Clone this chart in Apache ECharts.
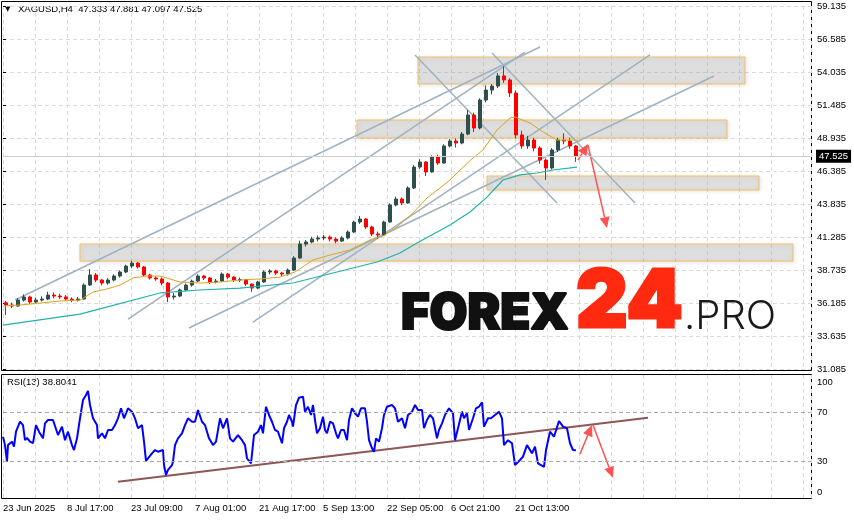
<!DOCTYPE html>
<html>
<head>
<meta charset="utf-8">
<title>XAGUSD H4</title>
<script src="https://cdn.jsdelivr.net/npm/echarts@6.0.0/dist/echarts.min.js"></script>
<style>
  html, body { margin: 0; padding: 0; background: #fff; }
  #chart { width: 854px; height: 520px; }
</style>
</head>
<body>
<div id="chart"></div>
<script>
// x axis unit = one H4 bar; each drawn candle stands for 6 bars
const BARS_PER_CANDLE = 6

const timeLabels = ['23 Jun 2025', '8 Jul 17:00', '23 Jul 09:00', '7 Aug 01:00', '21 Aug 17:00',
  '5 Sep 13:00', '22 Sep 05:00', '6 Oct 21:00', '21 Oct 13:00']

const opens = [36.20, 36.03, 35.95, 36.41, 36.65, 36.26, 36.41, 36.49, 36.80, 36.72,
  36.65, 36.49, 36.41, 36.49, 37.57, 38.35, 37.96, 37.73, 37.96, 38.27,
  38.58, 39.04, 39.27, 38.97, 38.35, 38.12, 38.04, 37.73, 36.65, 36.72,
  37.19, 37.57, 37.88, 38.27, 38.12, 37.81, 37.88, 38.42, 38.19, 37.96,
  38.00, 37.65, 37.34, 37.81, 38.58, 38.66, 38.50, 38.42, 38.73, 39.66,
  40.74, 40.90, 41.13, 41.21, 41.28, 41.13, 40.97, 41.21, 41.67, 42.44,
  42.67, 42.06, 41.52, 41.44, 42.44, 43.76, 44.22, 43.91, 45.07, 46.69,
  47.08, 46.31, 47.47, 47.00, 48.32, 48.70, 48.55, 49.24, 50.71, 49.71,
  51.87, 52.64, 52.95, 53.73, 53.42, 52.41, 49.17, 48.32, 48.78, 48.16,
  47.23, 46.62, 48.01, 48.78, 48.70, 48.32]
const closes = [36.03, 35.95, 36.41, 36.65, 36.26, 36.41, 36.49, 36.80, 36.72, 36.65,
  36.49, 36.41, 36.49, 37.57, 38.35, 37.96, 37.73, 37.96, 38.27, 38.58,
  39.04, 39.27, 38.97, 38.35, 38.12, 38.04, 37.73, 36.65, 36.72, 37.19,
  37.57, 37.88, 38.27, 38.12, 37.81, 37.88, 38.42, 38.19, 37.96, 38.00,
  37.65, 37.34, 37.81, 38.58, 38.66, 38.50, 38.42, 38.73, 39.66, 40.74,
  40.90, 41.13, 41.21, 41.28, 41.13, 40.97, 41.21, 41.67, 42.44, 42.67,
  42.06, 41.52, 41.44, 42.44, 43.76, 44.22, 43.91, 45.07, 46.69, 47.08,
  46.31, 47.47, 47.00, 48.32, 48.70, 48.55, 49.24, 50.71, 49.71, 51.87,
  52.64, 52.95, 53.73, 53.42, 52.41, 49.17, 48.32, 48.78, 48.16, 47.23,
  46.62, 48.01, 48.78, 48.70, 48.32, 47.525]
const lows = [35.26, 35.80, 35.90, 36.30, 36.10, 36.15, 36.30, 36.40, 36.55, 36.50,
  36.35, 36.25, 36.30, 36.45, 37.50, 37.80, 37.55, 37.60, 37.85, 38.15,
  38.50, 38.90, 38.85, 38.20, 38.00, 37.90, 37.55, 36.26, 36.45, 36.65,
  37.10, 37.45, 37.80, 37.95, 37.65, 37.70, 37.80, 38.05, 37.80, 37.80,
  37.50, 37.05, 37.25, 37.75, 38.40, 38.35, 38.25, 38.30, 38.65, 39.60,
  40.55, 40.80, 40.95, 41.05, 40.95, 40.80, 40.90, 41.10, 41.60, 42.30,
  41.90, 41.35, 41.15, 41.40, 42.40, 43.65, 43.75, 43.85, 45.00, 46.55,
  46.00, 46.25, 46.85, 46.95, 48.20, 48.20, 48.45, 49.15, 49.40, 49.60,
  51.70, 52.30, 52.80, 53.20, 52.10, 48.90, 48.10, 48.10, 47.90, 46.95,
  45.69, 46.50, 47.85, 48.45, 48.10, 47.097]
const highs = [36.35, 36.22, 36.55, 36.85, 36.75, 36.60, 36.70, 37.05, 37.00, 36.90,
  36.80, 36.62, 36.66, 37.70, 38.80, 38.50, 38.05, 38.10, 38.40, 38.70,
  39.15, 39.45, 39.35, 39.05, 38.45, 38.25, 38.15, 37.80, 36.95, 37.30,
  37.70, 38.00, 38.40, 38.35, 38.20, 38.05, 38.55, 38.50, 38.25, 38.15,
  38.05, 37.70, 37.90, 38.70, 38.80, 38.75, 38.60, 38.85, 39.80, 41.00,
  41.05, 41.30, 41.40, 41.45, 41.40, 41.25, 41.35, 41.80, 42.55, 42.90,
  42.75, 42.15, 41.70, 42.55, 43.90, 44.40, 44.35, 45.20, 46.85, 47.30,
  47.15, 47.60, 47.65, 48.45, 48.85, 48.90, 49.40, 51.10, 50.90, 52.00,
  53.00, 53.10, 53.95, 54.47, 53.55, 52.60, 49.50, 49.10, 48.95, 48.30,
  47.35, 48.15, 48.95, 49.30, 48.95, 48.40]

// moving averages, [bar, price]
const maFast = [[0, 35.95], [17, 36.03], [37, 36.18], [57, 36.34], [77, 36.41], [90, 37.03], [104, 37.27],
  [117, 37.57], [130, 38.12], [144, 38.27], [157, 38.27], [177, 37.81], [197, 37.73], [217, 37.81],
  [237, 37.96], [257, 38.04], [277, 38.19], [292, 38.58], [310, 39.51], [327, 39.89], [347, 40.28],
  [367, 41.05], [380, 41.36], [394, 42.06], [410, 43.14], [424, 44.30], [437, 45.07], [447, 45.69],
  [457, 46.46], [470, 47.39], [480, 48.01], [494, 49.55], [507, 50.48], [512, 50.56], [527, 50.09],
  [540, 49.40], [554, 48.78], [575, 48.78]]
const maSlow = [[0, 34.48], [77, 35.33], [157, 36.96], [197, 37.19], [237, 37.34], [290, 37.73],
  [330, 38.50], [374, 39.35], [397, 40.05], [414, 40.82], [447, 42.21], [467, 43.22], [484, 44.37],
  [500, 45.69], [517, 46.08], [534, 46.23], [550, 46.46], [574, 46.69]]

// RSI(13), [bar, value]
const rsi = [[0, 49.8], [2, 43], [4, 29.5], [5, 43], [9, 45.8], [11, 41.7], [13, 53.9], [17, 62], [20, 59.3],
  [22, 47], [24, 48.8], [27, 45.8], [30, 44.6], [33, 59.3], [36, 53.9], [40, 48.5], [42, 60.7], [45, 63.4],
  [50, 63.4], [55, 51.2], [59, 58], [62, 47], [65, 53.9], [69, 43], [71, 39], [74, 48.5], [77, 64.8],
  [80, 79.7], [83, 83.7], [85, 87], [87, 75.6], [90, 64.8], [94, 59.3], [95, 48.5], [99, 52.6], [102, 48.5],
  [105, 55.3], [109, 55.3], [112, 59.3], [115, 64.8], [118, 72.9], [121, 64.8], [125, 72.9], [129, 70.2],
  [132, 64.8], [135, 56.7], [139, 59.3], [141, 45.8], [143, 30.1], [145, 30.9], [149, 36.3], [152, 39],
  [155, 37.6], [160, 39], [161, 26.8], [163, 18.7], [165, 22.8], [169, 26.8], [170, 29.5], [172, 43],
  [175, 48.5], [179, 52.6], [182, 59.3], [185, 64.8], [189, 62], [192, 62], [195, 71.5], [199, 62],
  [202, 59.3], [206, 48.5], [210, 43], [213, 45.8], [217, 64.8], [220, 56.7], [224, 64.8], [227, 48.5],
  [230, 45.8], [235, 51.2], [239, 47], [242, 43], [244, 32.3], [248, 28.2], [251, 51.2], [255, 53.9],
  [258, 59.3], [260, 52.6], [263, 74.2], [266, 67.5], [269, 62], [272, 55.3], [275, 53.9], [279, 44.5],
  [281, 56.7], [284, 62], [286, 67.5], [289, 62], [290, 58], [293, 75.6], [296, 81.5], [300, 82.4],
  [302, 70.2], [305, 74.2], [308, 67.5], [310, 75.6], [312, 63.4], [314, 52.6], [317, 56.7], [320, 66.1],
  [322, 55.3], [324, 52.6], [327, 62], [330, 60.7], [333, 52.6], [335, 48.5], [338, 55.3], [341, 55.3],
  [344, 47], [346, 63.4], [349, 72.9], [352, 68.9], [355, 66.1], [358, 72.9], [362, 72.9], [364, 62],
  [366, 47], [369, 40.4], [371, 37.6], [373, 48.5], [376, 45.8], [379, 56.7], [381, 67.5], [384, 74.2],
  [389, 75.6], [392, 72.9], [395, 62], [399, 64.8], [402, 56.7], [405, 67.5], [409, 70.2], [412, 75.6],
  [415, 71.5], [419, 71.5], [421, 56.7], [424, 63.4], [427, 67.5], [430, 64.8], [434, 48.5], [436, 55.3],
  [439, 60.7], [442, 67.5], [446, 72.9], [450, 68.9], [452, 47], [455, 56.7], [459, 70.2], [461, 64.8],
  [464, 68.9], [466, 55.3], [470, 64.8], [473, 72.9], [476, 74.2], [479, 77.8], [481, 58], [485, 64.8],
  [488, 64.8], [492, 67.5], [496, 70.2], [499, 64.8], [501, 43], [505, 47], [509, 44.5], [512, 26.8],
  [517, 30.9], [520, 33.6], [524, 43], [529, 36.3], [532, 41.7], [535, 28.2], [537, 28.2], [541, 25.4],
  [543, 39], [547, 53.9], [551, 49.8], [556, 62.6], [560, 58], [564, 56.7], [567, 44.5], [570, 39],
  [573, 38.8]]
const rsiLevels = [30, 70]

// drawn objects, [bar1, price1, bar2, price2]
const zones = [[77, 39.42, 790, 40.743], [354, 48.934, 724, 50.325],
  [415, 53.107, 742, 55.194], [484, 44.915, 756, 45.997]]
const trendLines = [[12, 36.415, 537, 55.967], [125, 34.945, 522, 55.58], [186, 34.25, 711, 53.725],
  [250, 34.715, 647, 55.35], [412, 55.35, 554, 43.91], [489, 55.503, 632, 43.91]]
const priceArrows = [[575, 47.23, 585, 48.47], [585, 48.39, 604, 41.98]]
const rsiTrend = [[115, 13.3, 645, 65.3]]
const rsiArrows = [[577, 35.8, 589, 59.3], [590, 59.3, 610, 16.5]]

const FONT = 'Liberation Sans'
const lastPrice = closes[closes.length - 1]

const candles = opens.map((o, i) => [i * BARS_PER_CANDLE + 3, o, closes[i], lows[i], highs[i]])

function timeAxis(gridIndex, showLabels) {
  return {
    type: 'value', gridIndex, min: 0, max: 808, interval: 32,
    axisLine: { show: false },
    axisTick: { show: false },
    axisLabel: {
      show: showLabels, align: 'left', margin: 5, color: '#000', fontSize: 9.5, fontFamily: FONT,
      formatter: (v) => (v % 64 === 0 ? timeLabels[v / 64] || '' : ''),
    },
    splitLine: { show: true, lineStyle: { color: '#dadada', type: [4, 3] } },
  }
}

function renderZone(params, api) {
  const a = api.coord([api.value(0), api.value(1)])
  const b = api.coord([api.value(2), api.value(3)])
  return {
    type: 'rect',
    shape: { x: a[0], y: b[1], width: b[0] - a[0], height: a[1] - b[1] },
    style: {
      fill: 'rgba(185,185,185,0.32)', stroke: '#f2c064', lineWidth: 1,
      shadowBlur: 4, shadowColor: 'rgba(0,0,0,0.18)', shadowOffsetX: 1, shadowOffsetY: 1,
    },
  }
}

function lineRenderer(color, width) {
  return (params, api) => {
    const a = api.coord([api.value(0), api.value(1)])
    const b = api.coord([api.value(2), api.value(3)])
    return {
      type: 'line',
      shape: { x1: a[0], y1: a[1], x2: b[0], y2: b[1] },
      style: { stroke: color, lineWidth: width },
    }
  }
}

function renderArrow(params, api) {
  const a = api.coord([api.value(0), api.value(1)])
  const b = api.coord([api.value(2), api.value(3)])
  const len = Math.hypot(b[0] - a[0], b[1] - a[1])
  const dx = (b[0] - a[0]) / len, dy = (b[1] - a[1]) / len
  const hl = 11, hw = 5
  const bx = b[0] - dx * hl, by = b[1] - dy * hl
  return {
    type: 'group',
    children: [
      { type: 'line', shape: { x1: a[0], y1: a[1], x2: bx, y2: by }, style: { stroke: '#ff5252', lineWidth: 1.5 } },
      {
        type: 'polygon',
        shape: { points: [[b[0], b[1]], [bx - dy * hw, by + dx * hw], [bx + dy * hw, by - dx * hw]] },
        style: { fill: '#ff5252' },
      },
    ],
  }
}

const option = {
  animation: false,
  backgroundColor: '#fff',
  grid: [
    { left: 3, top: 6, width: 808, height: 363 },
    { left: 3, top: 375, width: 808, height: 123 },
  ],
  xAxis: [timeAxis(0, false), timeAxis(1, true)],
  yAxis: [
    {
      type: 'value', gridIndex: 0, position: 'right', min: 31.085, max: 59.135, interval: 2.55,
      axisLine: { show: false },
      axisTick: { show: true, length: 3, lineStyle: { color: '#000' } },
      axisLabel: { margin: 6, color: '#000', fontSize: 9.5, fontFamily: FONT, formatter: (v) => v.toFixed(3) },
      splitLine: { lineStyle: { color: '#dadada', type: [4, 3] } },
    },
    {
      type: 'value', gridIndex: 1, position: 'right', min: 0, max: 100, interval: 10,
      axisLine: { show: false },
      axisTick: { show: false },
      axisLabel: {
        margin: 6, color: '#000', fontSize: 9.5, fontFamily: FONT,
        formatter: (v) => (rsiLevels.includes(v) ? String(v) : ''),
      },
      splitLine: { show: false },
    },
  ],
  series: [
    {
      type: 'candlestick', xAxisIndex: 0, yAxisIndex: 0,
      data: candles, encode: { x: 0, y: [1, 2, 3, 4] },
      barWidth: 4,
      itemStyle: { color: '#2f4f4f', color0: '#ff0000', borderColor: '#2f4f4f', borderColor0: '#ff0000', borderWidth: 1 },
      markLine: {
        silent: true, symbol: ['none', 'none'],
        data: [{ yAxis: lastPrice }],
        lineStyle: { color: '#cfcfcf', type: 'solid', width: 1 },
        label: {
          position: 'end', distance: 5, formatter: lastPrice.toFixed(3),
          backgroundColor: '#000', color: '#fff', padding: [2, 3, 1, 3], fontSize: 9.5, fontFamily: FONT,
        },
      },
    },
    {
      type: 'line', xAxisIndex: 0, yAxisIndex: 0, data: maFast, showSymbol: false, silent: true,
      lineStyle: { color: '#daa520', width: 1 },
    },
    {
      type: 'line', xAxisIndex: 0, yAxisIndex: 0, data: maSlow, showSymbol: false, silent: true,
      lineStyle: { color: '#20b2aa', width: 1.2 },
    },
    {
      type: 'custom', xAxisIndex: 0, yAxisIndex: 0, data: zones, silent: true,
      encode: { x: [0, 2], y: [1, 3] }, renderItem: renderZone,
    },
    {
      type: 'custom', xAxisIndex: 0, yAxisIndex: 0, data: trendLines, silent: true,
      encode: { x: [0, 2], y: [1, 3] }, renderItem: lineRenderer('#9fb2c1', 1.5),
    },
    {
      type: 'custom', xAxisIndex: 0, yAxisIndex: 0, data: priceArrows, silent: true,
      encode: { x: [0, 2], y: [1, 3] }, renderItem: renderArrow,
    },
    {
      type: 'line', xAxisIndex: 1, yAxisIndex: 1, data: rsi, showSymbol: false, silent: true,
      lineStyle: { color: '#0000ff', width: 2 },
      markLine: {
        silent: true, symbol: ['none', 'none'], label: { show: false },
        data: rsiLevels.map((v) => ({ yAxis: v })),
        lineStyle: { color: '#a9a9a9', type: [4, 3], width: 1 },
      },
    },
    {
      type: 'custom', xAxisIndex: 1, yAxisIndex: 1, data: rsiTrend, silent: true,
      encode: { x: [0, 2], y: [1, 3] }, renderItem: lineRenderer('#8e5656', 2),
    },
    {
      type: 'custom', xAxisIndex: 1, yAxisIndex: 1, data: rsiArrows, silent: true,
      encode: { x: [0, 2], y: [1, 3] }, renderItem: renderArrow,
    },
  ],
  graphic: [
    { type: 'rect', shape: { x: 1.5, y: 1.5, width: 810, height: 369 }, style: { fill: 'none', stroke: '#000', lineWidth: 1 } },
    { type: 'rect', shape: { x: 1.5, y: 374.5, width: 810, height: 124 }, style: { fill: 'none', stroke: '#000', lineWidth: 1 } },
    { type: 'text', x: 5, y: 9, style: { text: '▼', font: '7px "DejaVu Sans"', fill: '#000', verticalAlign: 'middle' } },
    {
      type: 'text', x: 18, y: 9,
      style: { text: 'XAGUSD,H4  47.333 47.881 47.097 47.525', font: '9.5px "Liberation Sans"', fill: '#000', verticalAlign: 'middle' },
    },
    { type: 'text', x: 7, y: 382, style: { text: 'RSI(13) 38.8041', font: '9.5px "Liberation Sans"', fill: '#000', verticalAlign: 'middle' } },
    { type: 'text', x: 817, y: 382, style: { text: '100', font: '9.5px "Liberation Sans"', fill: '#000', verticalAlign: 'middle' } },
    { type: 'text', x: 817, y: 492, style: { text: '0', font: '9.5px "Liberation Sans"', fill: '#000', verticalAlign: 'middle' } },
    // watermark
    {
      type: 'text', x: 401, y: 314, z: 50,
      style: { text: 'FOREX', font: '900 49px Inter', fill: '#111', stroke: '#111', lineWidth: 2, verticalAlign: 'middle' },
    },
    {
      type: 'text', x: 576, y: 303, z: 50,
      style: { text: '24', font: '900 80px Inter', fill: '#ff2a10', stroke: '#ff2a10', lineWidth: 3, verticalAlign: 'middle' },
    },
    { type: 'text', x: 684, y: 317, z: 50, style: { text: '.PRO', font: '300 40px Inter', fill: '#1a1a1a', verticalAlign: 'middle' } },
  ],
}

const chart = echarts.init(document.getElementById('chart'), null, { renderer: 'canvas' })
chart.setOption(option)
</script>
</body>
</html>
